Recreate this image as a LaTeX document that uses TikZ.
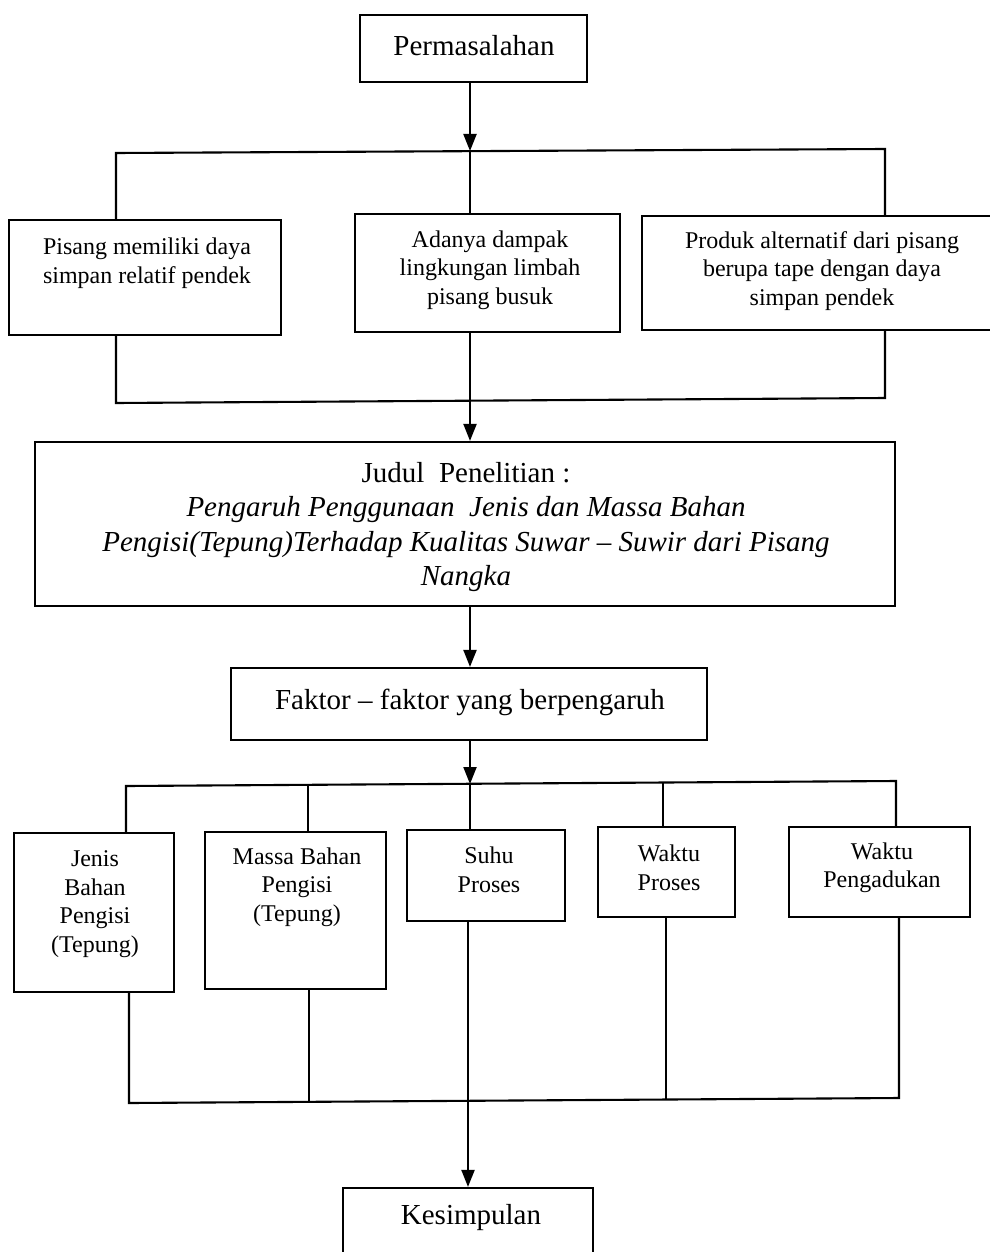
\documentclass[tikz,border=0pt]{standalone}
\usepackage{fontspec}
\setmainfont{Liberation Serif}
\usetikzlibrary{arrows.meta}
\begin{document}
\begin{tikzpicture}[x=1pt,y=-1pt,
  box/.style={draw, line width=2.2pt, inner sep=0pt},
  txt/.style={align=center, inner sep=0pt, font=\fontsize{24}{28.5}\selectfont},
  big/.style={align=center, inner sep=0pt, font=\fontsize{29}{34.5}\selectfont},
  ln/.style={line width=2.1pt},
  arr/.style={line width=2.1pt, -{Triangle[length=17pt,width=13pt]}}]
\useasboundingbox (0,0) rectangle (989,1252);
% boxes
\node[box, minimum width=227pt, minimum height=67pt] (perm) at (473.5,48.5) {};
\node[big] (permt) at (474,46) {Permasalahan};
\node[box, minimum width=272pt, minimum height=115pt] (b1) at (145,277.5) {};
\node[txt] (b1t) at (147,263) {Pisang memiliki daya\\simpan relatif pendek};
\node[box, minimum width=265pt, minimum height=118pt] (b2) at (487.5,273) {};
\node[txt] (b2t) at (490,270) {Adanya dampak\\lingkungan limbah\\pisang busuk};
\node[box, minimum width=350pt, minimum height=114pt] (b3) at (817,273) {};
\node[txt] (b3t) at (822,271) {Produk alternatif dari pisang\\berupa tape dengan daya\\simpan pendek};
\node[box, minimum width=860pt, minimum height=164pt] (judul) at (465,524) {};
\node[big] (judult) at (466,527) {Judul\ \ Penelitian :\\
  \itshape Pengaruh Penggunaan\ \ Jenis dan Massa Bahan\\
  \itshape Pengisi(Tepung)Terhadap Kualitas Suwar -- Suwir dari Pisang\\
  \itshape Nangka};
\node[box, minimum width=476pt, minimum height=72pt] (faktor) at (469,704) {};
\node[big] (faktort) at (470,702) {Faktor -- faktor yang berpengaruh};
\node[box, minimum width=160pt, minimum height=159pt] (jb) at (94,912.5) {};
\node[txt] (jbt) at (95,904) {Jenis\\Bahan\\Pengisi\\(Tepung)};
\node[box, minimum width=181pt, minimum height=157pt] (mb) at (295.5,910.5) {};
\node[txt] (mbt) at (297,887) {Massa Bahan\\Pengisi\\(Tepung)};
\node[box, minimum width=158pt, minimum height=91pt] (sp) at (486,875.5) {};
\node[txt] (spt) at (489,870) {Suhu\\Proses};
\node[box, minimum width=137pt, minimum height=90pt] (wp) at (666.5,872) {};
\node[txt] (wpt) at (669,868) {Waktu\\Proses};
\node[box, minimum width=181pt, minimum height=90pt] (wg) at (879.5,872) {};
\node[txt] (wgt) at (882,868) {Waktu\\Pengadukan};
\node[box, minimum width=250pt, minimum height=72pt] (kes) at (468,1224) {};
\node[big] (kest) at (471,1218) {Kesimpulan};
% bus coordinates
\coordinate (t0) at (470,151);
\coordinate (t1) at (116,153);
\coordinate (t3) at (885,149);
\coordinate (u0) at (470,400);
\coordinate (u1) at (116,403);
\coordinate (u3) at (885,398);
\coordinate (v0) at (470,784);
\coordinate (v1) at (126,786);
\coordinate (v2) at (308,785);
\coordinate (v4) at (663,782);
\coordinate (v5) at (896,781);
\coordinate (w0) at (468,1101);
\coordinate (w1) at (129,1103);
\coordinate (w2) at (309,1102);
\coordinate (w4) at (666,1099);
\coordinate (w5) at (899,1098);
% connectors
\draw[arr] (perm.south -| t0) -- (t0);
\draw[ln] (b1.north -| t1) -- (t1) -- (t3) -- (b3.north -| t3);
\draw[ln] (t0) -- (b2.north -| t0);
\draw[ln] (b1.south -| u1) -- (u1) -- (u3) -- (b3.south -| u3);
\draw[arr] (b2.south -| u0) -- (judul.north -| u0);
\draw[arr] (judul.south -| v0) -- (faktor.north -| v0);
\draw[arr] (faktor.south -| v0) -- (v0);
\draw[ln] (jb.north -| v1) -- (v1) -- (v5) -- (wg.north -| v5);
\draw[ln] (v2) -- (mb.north -| v2);
\draw[ln] (v0) -- (sp.north -| v0);
\draw[ln] (v4) -- (wp.north -| v4);
\draw[ln] (jb.south -| w1) -- (w1) -- (w5) -- (wg.south -| w5);
\draw[ln] (mb.south -| w2) -- (w2);
\draw[ln] (wp.south -| w4) -- (w4);
\draw[arr] (sp.south -| w0) -- (kes.north -| w0);
\end{tikzpicture}
\end{document}
